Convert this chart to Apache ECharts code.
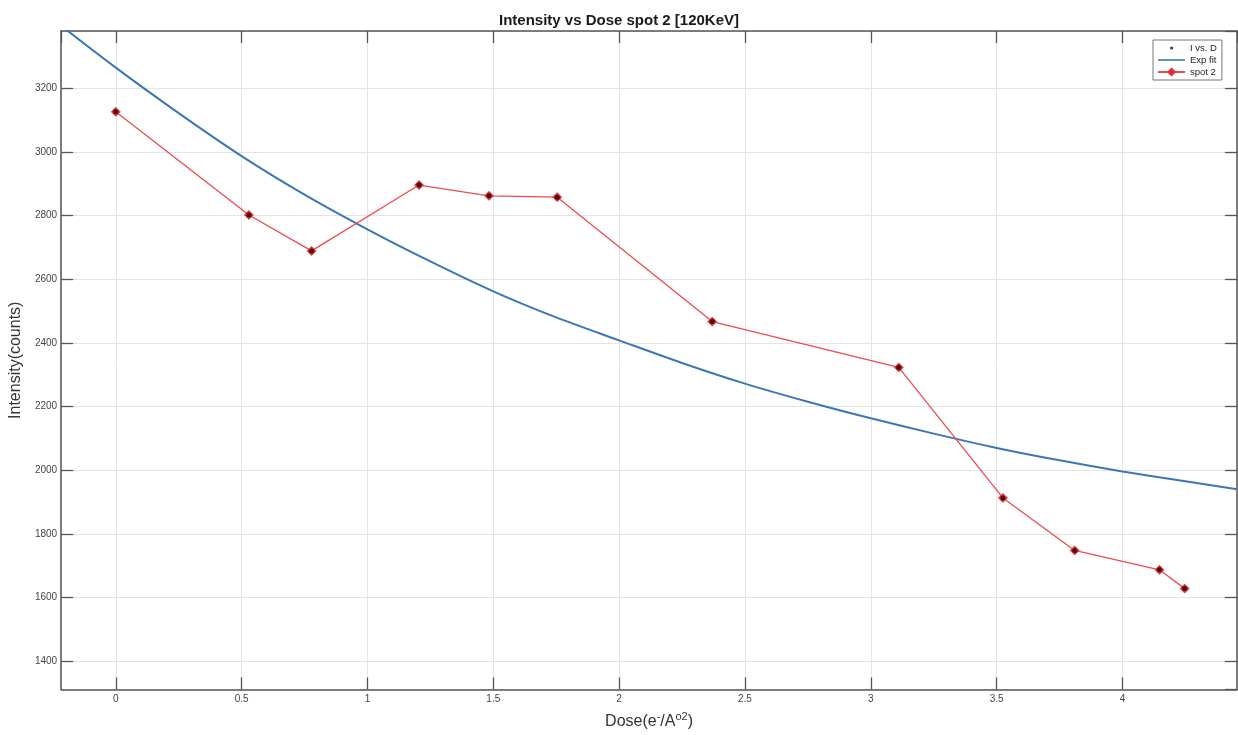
<!DOCTYPE html>
<html>
<head>
<meta charset="utf-8">
<script src="https://cdn.jsdelivr.net/npm/echarts@6/dist/echarts.min.js"></script>
<style>html,body{margin:0;padding:0;background:#fff;}#c{width:1238px;height:735px;}</style>
</head>
<body>
<div id="c"></div>
<script>
// Measured points (Dose, Intensity)
const doseValues = [0, 0.529, 0.778, 1.205, 1.483, 1.754, 2.370, 3.111, 3.525, 3.810, 4.147, 4.247];
const intensityValues = [3126, 2802, 2689, 2896, 2862, 2858, 2467, 2323, 1913, 1748, 1687, 1628];
// Exponential fit curve
const fitDose = [-0.2, 0, 0.25, 0.5, 0.75, 1, 1.25, 1.5, 1.75, 2, 2.25, 2.5, 2.75, 3, 3.25, 3.5, 3.75, 4, 4.25, 4.455];
const fitIntensity = [3386, 3265, 3122, 2987, 2866, 2757, 2656, 2562, 2480, 2408, 2337, 2272, 2215, 2163, 2115, 2070, 2031, 1996, 1965, 1940];

const FONT = 'Liberation Sans, Arial, Helvetica, sans-serif';
const xMin = -0.217, xMax = 4.455, yMin = 1311, yMax = 3380;

const pts = doseValues.map((d, i) => [d, intensityValues[i]]);
const fit = fitDose.map((d, i) => [d, fitIntensity[i]]);

const chart = echarts.init(document.getElementById('c'), null, {renderer: 'canvas'});
const axisLineStyle = {color: '#555', width: 1.5};
const tickStyle = {show: true, inside: true, length: 12, lineStyle: {color: '#555', width: 1.3}};
chart.setOption({
  animation: false,
  backgroundColor: '#fff',
  title: {
    text: 'Intensity vs Dose spot 2 [120KeV]',
    left: 'center', top: 8,
    textStyle: {fontFamily: FONT, fontSize: 15, fontWeight: 'bold', color: '#1a1a1a'}
  },
  legend: {
    orient: 'vertical', left: 1153, top: 40,
    padding: [3, 5, 3, 4], itemGap: 2, itemWidth: 27, itemHeight: 8,
    backgroundColor: '#fff', borderColor: '#777', borderWidth: 1,
    textStyle: {fontFamily: FONT, fontSize: 9.5, color: '#222'},
    data: [
      {name: 'I vs. D', icon: 'path://M0,0M27,0M27,8M0,8M12,4a1.6,1.6 0 1,0 3.2,0a1.6,1.6 0 1,0 -3.2,0z'},
      {name: 'Exp fit', icon: 'path://M0,0M27,0M27,8M0,8M0,3.2L27,3.2L27,4.8L0,4.8z'},
      {name: 'spot 2'}
    ]
  },
  grid: {left: 60, top: 31, right: 1, bottom: 45, containLabel: false},
  xAxis: [{
    type: 'value', min: xMin, max: xMax, splitNumber: 9,
    name: 'Dose(e{sup|-}/A{sup|o2})', nameLocation: 'middle', nameGap: 22,
    nameTextStyle: {fontFamily: FONT, fontSize: 16, color: '#333',
      rich: {sup: {fontSize: 11, verticalAlign: 'top', padding: [0, 0, 10, 0], fontFamily: FONT, color: '#333'}}},
    axisLine: {show: true, onZero: false, lineStyle: axisLineStyle},
    axisTick: tickStyle,
    axisLabel: {showMinLabel: false, showMaxLabel: false, fontFamily: FONT, fontSize: 10, color: '#444', margin: 5,
      formatter: v => String(v)},
    splitLine: {show: true, lineStyle: {color: '#e4e4e4', width: 1}}
  }, {
    type: 'value', position: 'top', min: xMin, max: xMax, splitNumber: 9,
    axisLine: {show: true, onZero: false, lineStyle: axisLineStyle},
    axisTick: tickStyle,
    axisLabel: {show: false}, splitLine: {show: false}
  }],
  yAxis: [{
    type: 'value', min: yMin, max: yMax, splitNumber: 10,
    name: 'Intensity(counts)', nameLocation: 'middle', nameGap: 33,
    nameTextStyle: {fontFamily: FONT, fontSize: 16, color: '#333'},
    axisLine: {show: true, onZero: false, lineStyle: axisLineStyle},
    axisTick: tickStyle,
    axisLabel: {showMinLabel: false, showMaxLabel: false, fontFamily: FONT, fontSize: 10, color: '#444', margin: 4,
      formatter: v => String(v)},
    splitLine: {show: true, lineStyle: {color: '#e4e4e4', width: 1}}
  }, {
    type: 'value', position: 'right', min: yMin, max: yMax, splitNumber: 10,
    axisLine: {show: true, onZero: false, lineStyle: axisLineStyle},
    axisTick: tickStyle,
    axisLabel: {show: false}, splitLine: {show: false}
  }],
  series: [{
    name: 'I vs. D', type: 'scatter', data: pts, z: 5,
    symbol: 'circle', symbolSize: 5,
    itemStyle: {color: '#300000'}
  }, {
    name: 'Exp fit', type: 'line', data: fit, smooth: 0.3, symbol: 'none',
    lineStyle: {color: '#3b77b5', width: 2}, itemStyle: {color: '#3b77b5'}
  }, {
    name: 'spot 2', type: 'line', data: pts, symbol: 'diamond', symbolSize: 9,
    lineStyle: {color: '#ee4a4f', width: 1.3},
    itemStyle: {color: '#d8303a', borderColor: '#e0303a', borderWidth: 0.8}
  }]
});
</script>
</body>
</html>
